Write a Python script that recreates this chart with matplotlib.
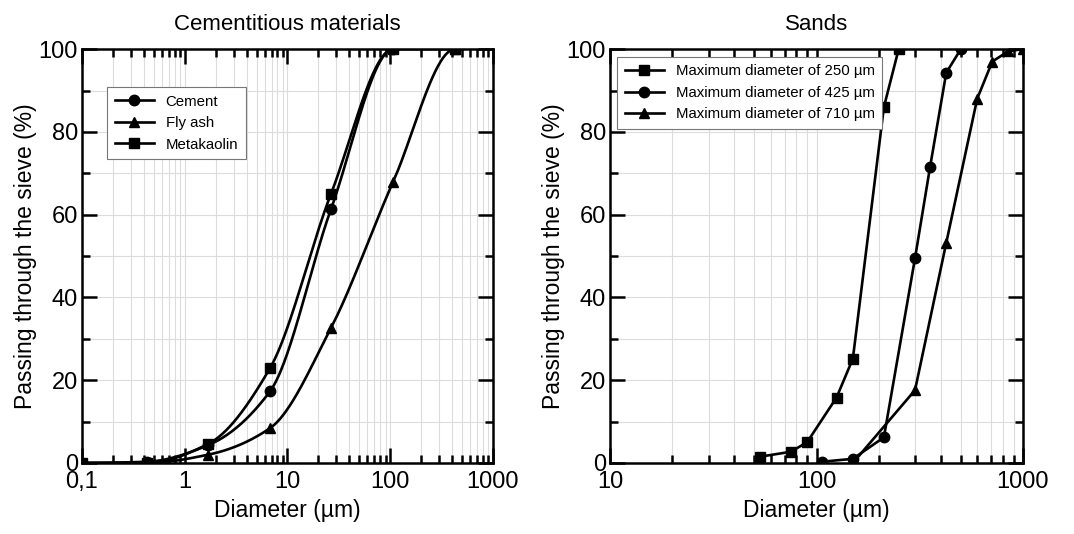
"""Particle size distributions: cementitious materials (left) and sands (right)."""
import numpy as np
import matplotlib
matplotlib.use("Agg")
import matplotlib.pyplot as plt
from matplotlib.lines import Line2D
from matplotlib.ticker import LogLocator, FixedLocator, NullFormatter

plt.rcParams.update({
    "font.family": ["Liberation Sans", "DejaVu Sans"],
    "axes.linewidth": 1.8,
})

# cementitious materials (laser granulometry)
CEM_X = [0.1, 0.43, 1.69, 6.76, 26.5, 107]
CEMENT_Y = [0, 0.3, 4.3, 17.3, 61.3, 100]
FLYASH_X = [0.1, 0.43, 1.69, 6.76, 26.5, 107, 427]
FLYASH_Y = [0, 0, 2.0, 8.4, 32.6, 68, 100]
META_X = [0.1, 0.43, 1.69, 6.76, 26.5, 107, 427]
META_Y = [0, 0, 4.6, 22.9, 65, 100, 100]

# sands (sieve analysis)
SAND250_X = [53, 75, 90, 125, 150, 212, 250]
SAND250_Y = [1.5, 2.7, 5.0, 15.8, 25.2, 86, 100]
SAND425_X = [106, 150, 212, 300, 355, 425, 500]
SAND425_Y = [0.3, 1.0, 6.2, 49.5, 71.6, 94.3, 100]
SAND710_X = [150, 300, 425, 600, 710, 850, 1000]
SAND710_Y = [0.0, 17.6, 53.2, 88, 97, 99.5, 100]

FS_TICK = 17
FS_LABEL = 16.5
FS_TITLE = 16
FS_LEG = 10.8


def pchip(x, y, xs):
    """Monotone cubic Hermite curve through the points, flat at both ends."""
    x = np.asarray(x, float)
    y = np.asarray(y, float)
    h = np.diff(x)
    d = np.diff(y) / h
    m = np.zeros_like(y)
    for k in range(1, len(x) - 1):
        if d[k - 1] * d[k] > 0:
            w1 = 2 * h[k] + h[k - 1]
            w2 = h[k] + 2 * h[k - 1]
            m[k] = (w1 + w2) / (w1 / d[k - 1] + w2 / d[k])
    idx = np.clip(np.searchsorted(x, xs) - 1, 0, len(x) - 2)
    t = (xs - x[idx]) / h[idx]
    h00 = 2 * t**3 - 3 * t**2 + 1
    h10 = t**3 - 2 * t**2 + t
    h01 = -2 * t**3 + 3 * t**2
    h11 = t**3 - t**2
    return h00 * y[idx] + h10 * h[idx] * m[idx] + h01 * y[idx + 1] + h11 * h[idx] * m[idx + 1]


def smooth_curve(ax, xs, ys, marker):
    lx = np.log10(xs)
    grid = np.linspace(lx[0], lx[-1], 400)
    ax.plot(10**grid, pchip(lx, ys, grid), color="k", lw=1.9, zorder=3)
    ax.plot(xs, ys, linestyle="none", marker=marker, color="k", ms=7.5, zorder=4)


def style_axes(ax, xmin, xmax, ticks, labels):
    ax.set_xscale("log")
    ax.set_xlim(xmin, xmax)
    ax.set_ylim(0, 100)
    ax.xaxis.set_major_locator(FixedLocator(ticks))
    ax.set_xticklabels(labels)
    ax.xaxis.set_minor_locator(LogLocator(base=10, subs=np.arange(2, 10)))
    ax.xaxis.set_minor_formatter(NullFormatter())
    ax.set_yticks([0, 20, 40, 60, 80, 100])
    ax.set_yticks([10, 30, 50, 70, 90], minor=True)
    ax.grid(True, which="both", color="#dcdcdc", lw=0.8, zorder=0)
    ax.tick_params(which="both", direction="in", top=True, right=True,
                   labelsize=FS_TICK, width=1.8)
    ax.tick_params(axis="y", pad=3)
    ax.tick_params(axis="x", pad=6)
    ax.tick_params(which="major", length=11)
    ax.tick_params(which="minor", length=6)
    ax.set_xlabel("Diameter (µm)", fontsize=FS_LABEL, labelpad=4)
    ax.set_ylabel("Passing through the sieve (%)", fontsize=FS_LABEL, labelpad=1)
    for s in ax.spines.values():
        s.set_zorder(5)


def add_legend(ax, handles, anchor):
    leg = ax.legend(handles=handles, loc="upper left", bbox_to_anchor=anchor,
                    borderaxespad=0, fontsize=FS_LEG, fancybox=False,
                    edgecolor="#777777", framealpha=1, handlelength=2.6,
                    borderpad=0.5, labelspacing=0.5)
    leg.get_frame().set_linewidth(0.8)
    leg.set_zorder(6)


fig = plt.figure(figsize=(10.74, 5.34), dpi=100)
ax1 = fig.add_axes([0.0763, 0.133, 0.3827, 0.775])
ax2 = fig.add_axes([0.568, 0.133, 0.3845, 0.775])

smooth_curve(ax1, CEM_X, CEMENT_Y, "o")
smooth_curve(ax1, FLYASH_X, FLYASH_Y, "^")
smooth_curve(ax1, META_X, META_Y, "s")
style_axes(ax1, 0.1, 1000, [0.1, 1, 10, 100, 1000], ["0,1", "1", "10", "100", "1000"])
ax1.set_title("Cementitious materials", fontsize=FS_TITLE, pad=14)
add_legend(ax1, [Line2D([], [], color="k", lw=1.9, marker=m, ms=7.5, label=l)
                 for m, l in [("o", "Cement"), ("^", "Fly ash"), ("s", "Metakaolin")]],
           (0.061, 0.908))

for xs, ys, m in [(SAND250_X, SAND250_Y, "s"), (SAND425_X, SAND425_Y, "o"),
                  (SAND710_X, SAND710_Y, "^")]:
    ax2.plot(xs, ys, color="k", lw=1.9, marker=m, ms=7.5, zorder=3)
style_axes(ax2, 10, 1000, [10, 100, 1000], ["10", "100", "1000"])
ax2.set_title("Sands", fontsize=FS_TITLE, pad=14)
add_legend(ax2, [Line2D([], [], color="k", lw=1.9, marker=m, ms=7.5, label=l)
                 for m, l in [("s", "Maximum diameter of 250 µm"),
                              ("o", "Maximum diameter of 425 µm"),
                              ("^", "Maximum diameter of 710 µm")]],
           (0.017, 0.981))

fig.savefig("out.png", dpi=100)
